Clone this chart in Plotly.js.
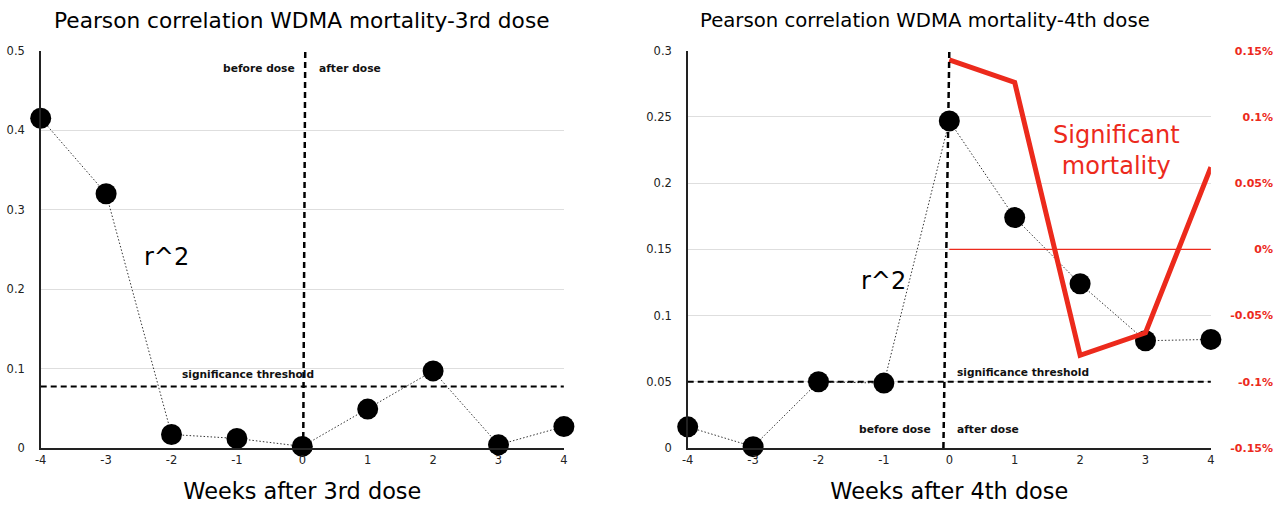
<!DOCTYPE html>
<html>
<head>
<meta charset="utf-8">
<script src="https://cdn.plot.ly/plotly-3.0.1.min.js"></script>
<style>html,body{margin:0;padding:0;background:#fff;}#chart{width:1280px;height:506px;}</style>
</head>
<body>
<div id="chart"></div>
<script>
// ---- data ----
const weeks = [-4, -3, -2, -1, 0, 1, 2, 3, 4];
const r2Dose3 = [0.415, 0.320, 0.017, 0.012, 0.002, 0.049, 0.097, 0.004, 0.027];
const r2Dose4 = [0.016, 0.001, 0.050, 0.049, 0.247, 0.174, 0.124, 0.081, 0.082];
const mortWeeks = [0, 1, 2, 3, 4];
const mortPct = [0.143, 0.126, -0.080, -0.063, 0.062];
const threshold3 = 0.0775;
const threshold4 = 0.05;
const xTickLabels = ['-4', '-3', '-2', '-1', '0', '1', '2', '3', '4'];
const y3TickVals = [0, 0.1, 0.2, 0.3, 0.4, 0.5];
const y3TickLabels = ['0', '0.1', '0.2', '0.3', '0.4', '0.5'];
const y4TickVals = [0, 0.05, 0.1, 0.15, 0.2, 0.25, 0.3];
const y4TickLabels = ['0', '0.05', '0.1', '0.15', '0.2', '0.25', '0.3'];
const pctTickVals = [-0.15, -0.1, -0.05, 0, 0.05, 0.1, 0.15];
const pctTickLabels = ['-0.15%', '-0.1%', '-0.05%', '0%', '0.05%', '0.1%', '0.15%'];

const FONT = 'DejaVu Sans, Liberation Sans, Arial, sans-serif';
const BOLD = 'DejaVu Sans, Liberation Sans, Arial, sans-serif';
const RED = '#ec2a1c';

const markerStyle = {size: 21, color: '#000'};
const dotLine = {color: '#333', width: 1, dash: '1.5px,2px'};

const traces = [
  {x: weeks, y: r2Dose3, xaxis: 'x', yaxis: 'y', mode: 'lines+markers',
   marker: markerStyle, line: dotLine, cliponaxis: false, showlegend: false, hoverinfo: 'x+y'},
  {x: weeks, y: r2Dose4, xaxis: 'x2', yaxis: 'y2', mode: 'lines+markers',
   marker: markerStyle, line: dotLine, cliponaxis: false, showlegend: false, hoverinfo: 'x+y'},
  {x: mortWeeks, y: mortPct, xaxis: 'x2', yaxis: 'y3', mode: 'lines',
   line: {color: RED, width: 5}, cliponaxis: false, showlegend: false, hoverinfo: 'x+y'}
];

const tickFont = {family: FONT, size: 11.5, color: '#222'};
const yDom = [1 - 448 / 506, 1 - 50.7 / 506];

function xAxis(domain, anchor, titleText) {
  return {
    domain: domain, anchor: anchor, range: [-4, 4], fixedrange: true,
    tickvals: weeks, ticktext: xTickLabels, tickfont: tickFont, ticks: '',
    showline: true, linecolor: '#222', linewidth: 1.5, showgrid: false, zeroline: false,
    ticklabelstandoff: 1,
    title: {text: titleText, font: {family: FONT, size: 22.4, color: '#000'}, standoff: 17}
  };
}
function yAxis(range, vals, labels, anchor) {
  return {
    domain: yDom, anchor: anchor, range: range, fixedrange: true,
    tickvals: vals, ticktext: labels, tickfont: tickFont, ticks: '',
    showline: true, linecolor: '#222', linewidth: 1.5,
    showgrid: true, gridcolor: '#dedede', gridwidth: 1, zeroline: false,
    ticklabelstandoff: 12
  };
}

const layout = {
  width: 1280, height: 506,
  margin: {l: 0, r: 0, t: 0, b: 0},
  paper_bgcolor: '#fff', plot_bgcolor: '#fff',
  font: {family: FONT, color: '#000'},
  showlegend: false,
  xaxis: xAxis([40.7 / 1280, 563.9 / 1280], 'y', 'Weeks after 3rd dose'),
  yaxis: yAxis([0, 0.5], y3TickVals, y3TickLabels, 'x'),
  xaxis2: xAxis([687.7 / 1280, 1210.9 / 1280], 'y2', 'Weeks after 4th dose'),
  yaxis2: yAxis([0, 0.3], y4TickVals, y4TickLabels, 'x2'),
  yaxis3: {
    domain: yDom, overlaying: 'y2', anchor: 'free', position: 1.0, side: 'left',
    range: [-0.15, 0.15], fixedrange: true,
    tickvals: pctTickVals, ticktext: pctTickLabels, ticks: '',
    tickfont: {family: BOLD, size: 11, color: RED, weight: 'bold'},
    showline: false, showgrid: false, zeroline: false, ticklabelstandoff: 7
  },
  shapes: [
    {type: 'line', xref: 'x', yref: 'y', x0: -4, x1: 4, y0: threshold3, y1: threshold3,
     line: {color: '#000', width: 2, dash: '6px,4px'}},
    {type: 'line', xref: 'x', yref: 'y', x0: 0.014, x1: 0.045, y0: 0, y1: 0.5,
     line: {color: '#000', width: 2.5, dash: '6px,4px'}},
    {type: 'line', xref: 'x2', yref: 'y2', x0: -4, x1: 4, y0: threshold4, y1: threshold4,
     line: {color: '#000', width: 2, dash: '6px,4px'}},
    {type: 'line', xref: 'x2', yref: 'y2', x0: -0.09, x1: 0, y0: 0, y1: 0.3,
     line: {color: '#000', width: 2.5, dash: '6px,4px'}},
    {type: 'line', xref: 'x2', yref: 'y3', x0: 0, x1: 4, y0: 0, y1: 0,
     line: {color: RED, width: 1.2}}
  ],
  annotations: [
    {xref: 'paper', yref: 'paper', x: 301.5 / 1280, y: 1 - 21 / 506, xanchor: 'center', yanchor: 'middle',
     text: 'Pearson correlation WDMA mortality-3rd dose', showarrow: false,
     font: {family: FONT, size: 21.7, color: '#000'}},
    {xref: 'paper', yref: 'paper', x: 924.5 / 1280, y: 1 - 21 / 506, xanchor: 'center', yanchor: 'middle',
     text: 'Pearson correlation WDMA mortality-4th dose', showarrow: false,
     font: {family: FONT, size: 19.7, color: '#000'}},
    {xref: 'x', yref: 'y', x: -2.07, y: 0.2405, text: 'r^2', showarrow: false,
     font: {family: FONT, size: 24, color: '#000'}},
    {xref: 'x2', yref: 'y2', x: -1.01, y: 0.1258, text: 'r^2', showarrow: false,
     font: {family: FONT, size: 24, color: '#000'}},
    {xref: 'x2', yref: 'y2', x: 2.55, y: 0.225, text: 'Significant<br>mortality', showarrow: false,
     font: {family: FONT, size: 24, color: RED}},
    {xref: 'x', yref: 'y', x: 0, y: 0.477, xanchor: 'right', xshift: -5, text: 'before dose', showarrow: false,
     font: {family: BOLD, size: 10.7, color: '#111', weight: 'bold'}},
    {xref: 'x', yref: 'y', x: 0, y: 0.477, xanchor: 'left', xshift: 15, text: 'after dose', showarrow: false,
     font: {family: BOLD, size: 10.7, color: '#111', weight: 'bold'}},
    {xref: 'x', yref: 'y', x: -0.83, y: 0.093, text: 'significance threshold', showarrow: false,
     font: {family: BOLD, size: 10.6, color: '#111', weight: 'bold'}},
    {xref: 'x2', yref: 'y2', x: 0, y: 0.0136, xanchor: 'right', xshift: -16, text: 'before dose', showarrow: false,
     font: {family: BOLD, size: 10.7, color: '#111', weight: 'bold'}},
    {xref: 'x2', yref: 'y2', x: 0, y: 0.0136, xanchor: 'left', xshift: 6, text: 'after dose', showarrow: false,
     font: {family: BOLD, size: 10.7, color: '#111', weight: 'bold'}},
    {xref: 'x2', yref: 'y2', x: 1.13, y: 0.0577, text: 'significance threshold', showarrow: false,
     font: {family: BOLD, size: 10.6, color: '#111', weight: 'bold'}}
  ]
};

Plotly.newPlot('chart', traces, layout, {staticPlot: true, displayModeBar: false});
</script>
</body>
</html>
